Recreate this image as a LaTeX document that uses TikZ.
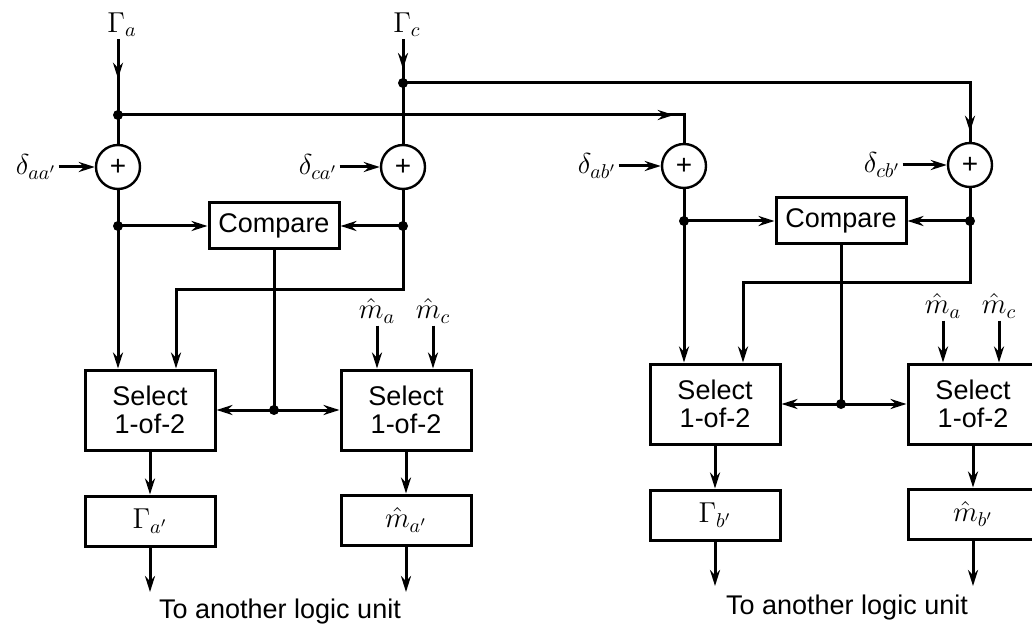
\documentclass[tikz,border=0pt]{standalone}
\usepackage{fontspec}
\setmainfont{Liberation Sans}
\usetikzlibrary{arrows.meta,decorations.markings}
\tikzset{
  ln/.style={line width=1.5pt},
  arr/.style={ln,-{Stealth[length=8pt,width=5pt]}},
  midarr/.style={ln,postaction={decorate},decoration={markings,mark=at position #1 with {\arrow{Stealth[length=8pt,width=5pt]}}}},
  blk/.style={draw,line width=1.5pt,minimum width=65pt,minimum height=40pt,align=center,font=\fontsize{13.5}{14}\selectfont,inner sep=0pt},
  cmp/.style={blk,minimum height=23pt},
  outbox/.style={blk,minimum height=25pt,font=\fontsize{14}{16}\selectfont},
  sum/.style={draw,circle,line width=1.2pt,minimum size=22pt,inner sep=0pt,font=\fontsize{14}{14}\selectfont},
  lbl/.style={font=\fontsize{14}{16}\selectfont,inner sep=1pt},
  dot/.style={circle,fill,inner sep=0pt,minimum size=5pt},
  txt/.style={font=\fontsize{13.5}{16}\selectfont,inner sep=0pt},
}
\begin{document}
\begin{tikzpicture}[x=0.5pt,y=-0.5pt]
\useasboundingbox (0,0) rectangle (1032,630);
\fill[white] (0,0) rectangle (1032,630);
\clip (0,0) rectangle (1032,630);
% ---------- left unit ----------
\node[lbl] (Ga) at (122,25) {$\Gamma_a$};
\node[lbl] (Gc) at (407,25) {$\Gamma_c$};
\coordinate (ja) at (118,115);
\coordinate (jc) at (403,83);
\node[sum] (saa) at (118,167) {+};
\node[sum] (sca) at (403,167) {+};
\node[lbl] (daa) at (36,167) {$\delta_{aa'}$};
\node[lbl] (dca) at (318,167) {$\delta_{ca'}$};
\node[cmp] (cmpL) at (274,226) {Compare};
\coordinate (jl1) at (118,226);
\coordinate (jl2) at (403,226);
\node[blk] (selL1) at (150,410) {Select\\1-of-2};
\node[blk] (selL2) at (406,410) {Select\\1-of-2};
\coordinate (fbL) at (176,290);
\coordinate (jsL) at (274,410);
\node[lbl] (maL) at (377,311) {$\hat m_a$};
\node[lbl] (mcL) at (433,311) {$\hat m_c$};
\node[outbox] (GaO) at (150,521) {$\Gamma_{a'}$};
\node[outbox] (maO) at (406,520) {$\hat m_{a'}$};
\coordinate (oL1) at (150,592);
\coordinate (oL2) at (406,592);
\node[txt] (tL) at (280,612) {To another logic unit};
% ---------- right unit ----------
\node[sum] (sab) at (684,166) {+};
\node[sum] (scb) at (970,165) {+};
\node[lbl] (dab) at (597,166) {$\delta_{ab'}$};
\node[lbl] (dcb) at (882,165) {$\delta_{cb'}$};
\node[cmp] (cmpR) at (841,221) {Compare};
\coordinate (jr1) at (684,221);
\coordinate (jr2) at (970,221);
\node[blk] (selR1) at (715,404) {Select\\1-of-2};
\node[blk] (selR2) at (973,404) {Select\\1-of-2};
\coordinate (fbR) at (743,283);
\coordinate (jsR) at (841,404);
\node[lbl] (maR) at (943,306) {$\hat m_a$};
\node[lbl] (mcR) at (999,306) {$\hat m_c$};
\node[outbox] (GbO) at (715,515) {$\Gamma_{b'}$};
\node[outbox] (mbO) at (973,514) {$\hat m_{b'}$};
\coordinate (oR1) at (715,586);
\coordinate (oR2) at (973,586);
\node[txt] (tR) at (847,608) {To another logic unit};
% ---------- connectors: left ----------
\draw[midarr=0.52] (Ga.south -| ja) -- (ja);
\draw[midarr=0.68] (Gc.south -| jc) -- (jc);
\draw[ln] (ja) -- (saa);
\draw[ln] (jc) -- (sca);
\draw[arr] (daa) -- (saa);
\draw[arr] (dca) -- (sca);
\draw[arr] (saa) -- (saa |- selL1.north);
\draw[arr] (jl1) -- (cmpL);
\draw[arr] (sca) -- (jl2) |- (fbL) -- (fbL |- selL1.north);
\draw[arr] (jl2) -- (cmpL);
\draw[ln] (cmpL) -- (jsL);
\draw[arr] (jsL) -- (selL1);
\draw[arr] (jsL) -- (selL2);
\draw[arr] (maL) -- (maL |- selL2.north);
\draw[arr] (mcL) -- (mcL |- selL2.north);
\draw[arr] (selL1) -- (GaO);
\draw[arr] (selL2) -- (maO);
\draw[arr] (GaO) -- (oL1);
\draw[arr] (maO) -- (oL2);
% ---------- connectors: cross ----------
\draw[midarr=0.936] (ja) -| (sab);
\draw[midarr=0.984] (jc) -| (scb);
% ---------- connectors: right ----------
\draw[arr] (dab) -- (sab);
\draw[arr] (dcb) -- (scb);
\draw[arr] (sab) -- (sab |- selR1.north);
\draw[arr] (jr1) -- (cmpR);
\draw[arr] (scb) -- (jr2) |- (fbR) -- (fbR |- selR1.north);
\draw[arr] (jr2) -- (cmpR);
\draw[ln] (cmpR) -- (jsR);
\draw[arr] (jsR) -- (selR1);
\draw[arr] (jsR) -- (selR2);
\draw[arr] (maR) -- (maR |- selR2.north);
\draw[arr] (mcR) -- (mcR |- selR2.north);
\draw[arr] (selR1) -- (GbO);
\draw[arr] (selR2) -- (mbO);
\draw[arr] (GbO) -- (oR1);
\draw[arr] (mbO) -- (oR2);
% ---------- junction dots ----------
\foreach \p in {ja,jc,jl1,jl2,jsL,jr1,jr2,jsR} \node[dot] at (\p) {};
\end{tikzpicture}
\end{document}
